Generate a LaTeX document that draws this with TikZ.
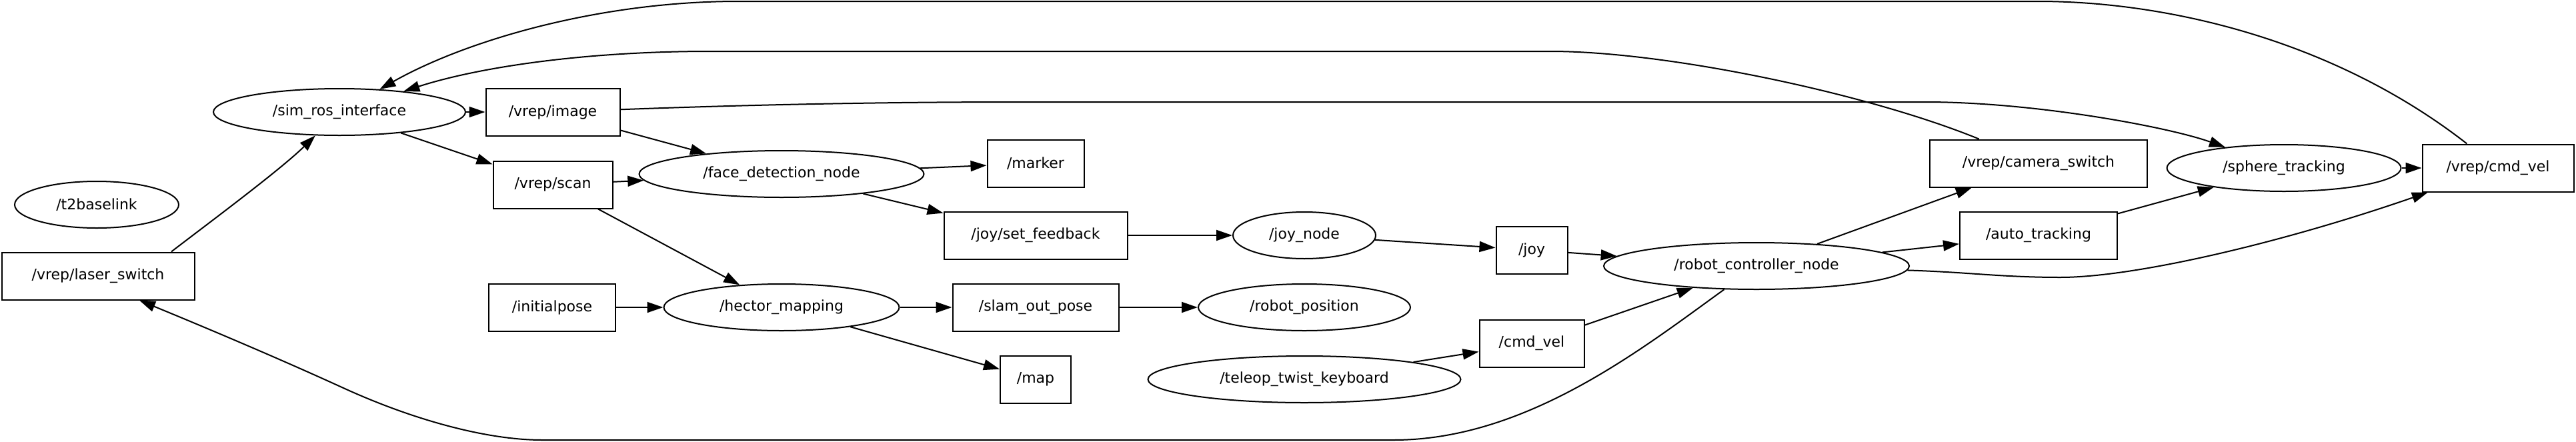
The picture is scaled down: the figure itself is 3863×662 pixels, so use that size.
\documentclass[tikz,border=0pt]{standalone}
\usepackage{fontspec}
\setmainfont{DejaVu Sans}
\usetikzlibrary{arrows.meta,shapes.geometric}
\begin{document}
\begin{tikzpicture}[x=1pt,y=-1pt,
  every node/.style={font=\fontsize{22pt}{26pt}\selectfont, line width=2pt, inner sep=0pt},
  topic/.style={draw, rectangle, minimum height=71pt},
  rosnode/.style={draw, ellipse, minimum height=70pt},
  arr/.style={line width=2pt, -{Triangle[length=24pt,width=16pt]}}]
\useasboundingbox (0,0) rectangle (3863,662);
\fill[white] (0,0) rectangle (3863,662);
% nodes
\node[rosnode, minimum width=378pt] (sim) at (509,168) {/sim\_ros\_interface};
\node[topic, minimum width=201pt] (vimage) at (829,168) {/vrep/image};
\node[topic, minimum width=179pt] (vscan) at (829,277) {/vrep/scan};
\node[rosnode, minimum width=246pt] (t2) at (145,307) {/t2baselink};
\node[topic, minimum width=289pt] (laser) at (147,414) {/vrep/laser\_switch};
\node[topic, minimum width=190pt] (initialpose) at (828,461) {/initialpose};
\node[rosnode, minimum width=427pt] (face) at (1172,261) {/face\_detection\_node};
\node[topic, minimum width=145pt] (marker) at (1553,245) {/marker};
\node[topic, minimum width=275pt] (setfb) at (1553,353) {/joy/set\_feedback};
\node[rosnode, minimum width=214pt] (joynode) at (1956,353) {/joy\_node};
\node[rosnode, minimum width=353pt] (hector) at (1172,461) {/hector\_mapping};
\node[topic, minimum width=249pt] (slam) at (1553,461) {/slam\_out\_pose};
\node[rosnode, minimum width=318pt] (robotpos) at (1956,461) {/robot\_position};
\node[topic, minimum width=106pt] (map) at (1553,569) {/map};
\node[rosnode, minimum width=469pt] (teleop) at (1956,569) {/teleop\_twist\_keyboard};
\node[topic, minimum width=107pt] (joy) at (2297,375) {/joy};
\node[rosnode, minimum width=458pt] (rcn) at (2634,399) {/robot\_controller\_node};
\node[topic, minimum width=157pt] (cmdvel) at (2297,515) {/cmd\_vel};
\node[topic, minimum width=326pt] (camsw) at (3057,245) {/vrep/camera\_switch};
\node[topic, minimum width=236pt] (autotr) at (3057,353) {/auto\_tracking};
\node[rosnode, minimum width=351pt] (sphere) at (3425,252) {/sphere\_tracking};
\node[topic, minimum width=227pt] (vcmdvel) at (3746,252) {/vrep/cmd\_vel};
% straight edges
\draw[arr] (sim) -- (vimage);
\draw[arr] (sim) -- (vscan);
\draw[arr] (vimage) -- (face);
\draw[arr] (vscan) -- (face);
\draw[arr] (vscan) -- (hector);
\draw[arr] (face) -- (marker);
\draw[arr] (face) -- (setfb);
\draw[arr] (setfb) -- (joynode);
\draw[arr] (joynode) -- (joy);
\draw[arr] (joy) -- (rcn);
\draw[arr] (initialpose) -- (hector);
\draw[arr] (hector) -- (slam);
\draw[arr] (hector) -- (map);
\draw[arr] (slam) -- (robotpos);
\draw[arr] (teleop) -- (cmdvel);
\draw[arr] (cmdvel) -- (rcn);
\draw[arr] (rcn) -- (camsw);
\draw[arr] (rcn) -- (autotr);
\draw[arr] (autotr) -- (sphere);
\draw[arr] (sphere) -- (vcmdvel);
% curved edges
\draw[arr] ([xshift=110pt]laser.north) .. controls (315,333) and (420,255) .. (sim);
\draw[arr] (vcmdvel) .. controls (3500,60) and (3250,2) .. (3056,2) -- (1107,2) .. controls (900,2) and (700,60) .. (sim);
\draw[arr] (camsw) .. controls (2800,140) and (2500,77) .. (2325,77) -- (1064,77) .. controls (880,77) and (720,100) .. (sim);
\draw[arr] (vimage) .. controls (1100,158) and (1300,153) .. (1530,153) -- (2887,153) .. controls (3050,153) and (3250,190) .. (sphere);
\draw[arr] (rcn) .. controls (2950,408) and (3000,416) .. (3090,416) .. controls (3200,416) and (3420,365) .. (vcmdvel);
\draw[arr] (rcn.216) .. controls (2465,521) and (2290,660) .. (2090,660) -- (813,660) .. controls (730,660) and (620,630) .. (515,582) .. controls (410,534) and (300,488) .. ([xshift=62pt]laser.south);
\end{tikzpicture}
\end{document}
